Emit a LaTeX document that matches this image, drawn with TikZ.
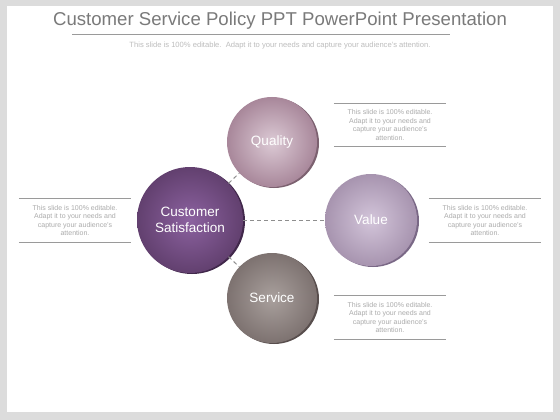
\documentclass[tikz,border=0pt]{standalone}
\usepackage{fontspec}
\setmainfont{Liberation Sans}
\definecolor{bggray}{HTML}{DCDCDC}
\definecolor{titlegray}{HTML}{7A7A7A}
\definecolor{subgray}{HTML}{BDBDBD}
\definecolor{notegray}{HTML}{ABABAB}
\definecolor{rulegray}{HTML}{9A9A9A}
\definecolor{linkgray}{HTML}{8E8E8E}
\definecolor{csin}{HTML}{8C62A0}
\definecolor{csout}{HTML}{62406F}
\definecolor{csrim}{HTML}{41284B}
\definecolor{qin}{HTML}{DCCAD5}
\definecolor{qout}{HTML}{A8879A}
\definecolor{qrim}{HTML}{7C6170}
\definecolor{vin}{HTML}{D3C5DA}
\definecolor{vout}{HTML}{A794AF}
\definecolor{vrim}{HTML}{7A6886}
\definecolor{sin}{HTML}{A9A09D}
\definecolor{sout}{HTML}{7D7270}
\definecolor{srim}{HTML}{584E4D}
\tikzset{
	bubble/.style={circle, minimum size=#1, inner sep=0pt, text=white, align=center,
		font=\fontsize{13.5}{16}\selectfont},
	note/.style={minimum width=112, minimum height=43, inner sep=0pt, align=center,
		text=notegray, font=\fontsize{7}{8.5}\selectfont},
	rule/.style={draw=rulegray, line width=0.9pt},
	link/.style={draw=linkgray, dash pattern=on 4pt off 3pt, line width=1pt},
}
\begin{document}
\begin{tikzpicture}[x=1pt, y=-1pt]
		\def\notetext{This slide is 100\% editable.\\Adapt it to your needs and\\capture your audience's\\attention.}
		\fill[bggray] (0,0) rectangle (560,420);
		\fill[white] (7,6) rectangle (553,412);
		\useasboundingbox (0,0) rectangle (560,420);
		\coordinate (C) at (190,220);
		\coordinate (Q) at (272,142);
		\coordinate (V) at (371,220);
		\coordinate (S) at (272,298);
		% title
		\node[anchor=base, text=titlegray, font=\fontsize{18.6}{22}\selectfont] (title) at (280,26) {Customer Service Policy PPT PowerPoint Presentation};
		\draw[rule] (72,34) -- (450,34);
		\node[anchor=base, text=subgray, font=\fontsize{7.6}{9}\selectfont] (subtitle) at (280,48) {This slide is 100\% editable.\ \ Adapt it to your needs and capture your audience's attention.};
		% bubbles
		\fill[csrim] ([shift={(2,1)}]C) circle (53);
		\fill[qrim] ([shift={(2,1)}]Q) circle (45);
		\fill[vrim] ([shift={(2,1)}]V) circle (46);
		\fill[srim] ([shift={(2,1)}]S) circle (45);
		\node[bubble=106, inner color=csin, outer color=csout] (cs) at (C) {Customer\\Satisfaction};
		\node[bubble=90, inner color=qin, outer color=qout] (quality) at (Q) {Quality};
		\node[bubble=92, inner color=vin, outer color=vout] (value) at (V) {Value};
		\node[bubble=90, inner color=sin, outer color=sout] (service) at (S) {Service};
		\draw[link] (cs) -- (quality);
		\draw[link] (cs) -- (value);
		\draw[link] (cs) -- (service);
		% notes
		\node[note] (qnote) at (390,125) {\notetext};
		\node[note] (lnote) at (75,220.5) {\notetext};
		\node[note] (rnote) at (485,220.5) {\notetext};
		\node[note] (snote) at (390,317.5) {\notetext};
		\foreach \n in {qnote,lnote,rnote,snote} {
			\draw[rule] (\n.north west) -- (\n.north east);
			\draw[rule] (\n.south west) -- (\n.south east);
		}
		\end{tikzpicture}
\end{document}
